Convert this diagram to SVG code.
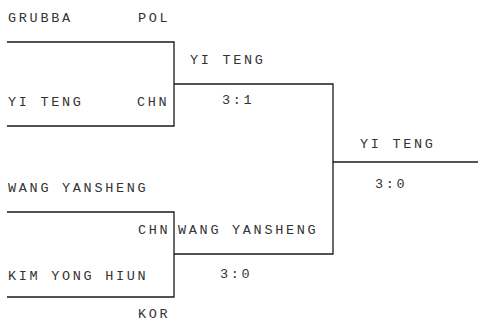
<svg xmlns="http://www.w3.org/2000/svg" width="479" height="322" viewBox="0 0 479 322">
<style>
text{font-family:"Liberation Mono","DejaVu Sans Mono",monospace;font-size:13.5px;fill:#333;letter-spacing:2.7px}
.ln{stroke:#1a1a1a;stroke-width:1.3;fill:none}
</style>
<rect width="479" height="322" fill="#fff"/>
<g id="connectors">
<path class="ln" d="M7 42H174V126H7"/>
<path class="ln" d="M174 84H333V254H174"/>
<path class="ln" d="M7 212H174V297H7"/>
<path class="ln" d="M333 162H478"/>
</g>
<g id="grubba"><text x="8" y="22">GRUBBA</text><text x="138" y="22">POL</text></g>
<g id="yiteng1"><text x="8" y="106">YI TENG</text><text x="137" y="106">CHN</text></g>
<g id="wang1"><text x="8" y="192">WANG YANSHENG</text><text x="138" y="234">CHN</text></g>
<g id="kim"><text x="8" y="280">KIM YONG HIUN</text><text x="138" y="318">KOR</text></g>
<g id="semi1"><text x="190" y="64">YI TENG</text><text x="222" y="104">3:1</text></g>
<g id="semi2"><text x="178" y="234">WANG YANSHENG</text><text x="220" y="278">3:0</text></g>
<g id="final"><text x="360" y="148">YI TENG</text><text x="375" y="188">3:0</text></g>
</svg>
